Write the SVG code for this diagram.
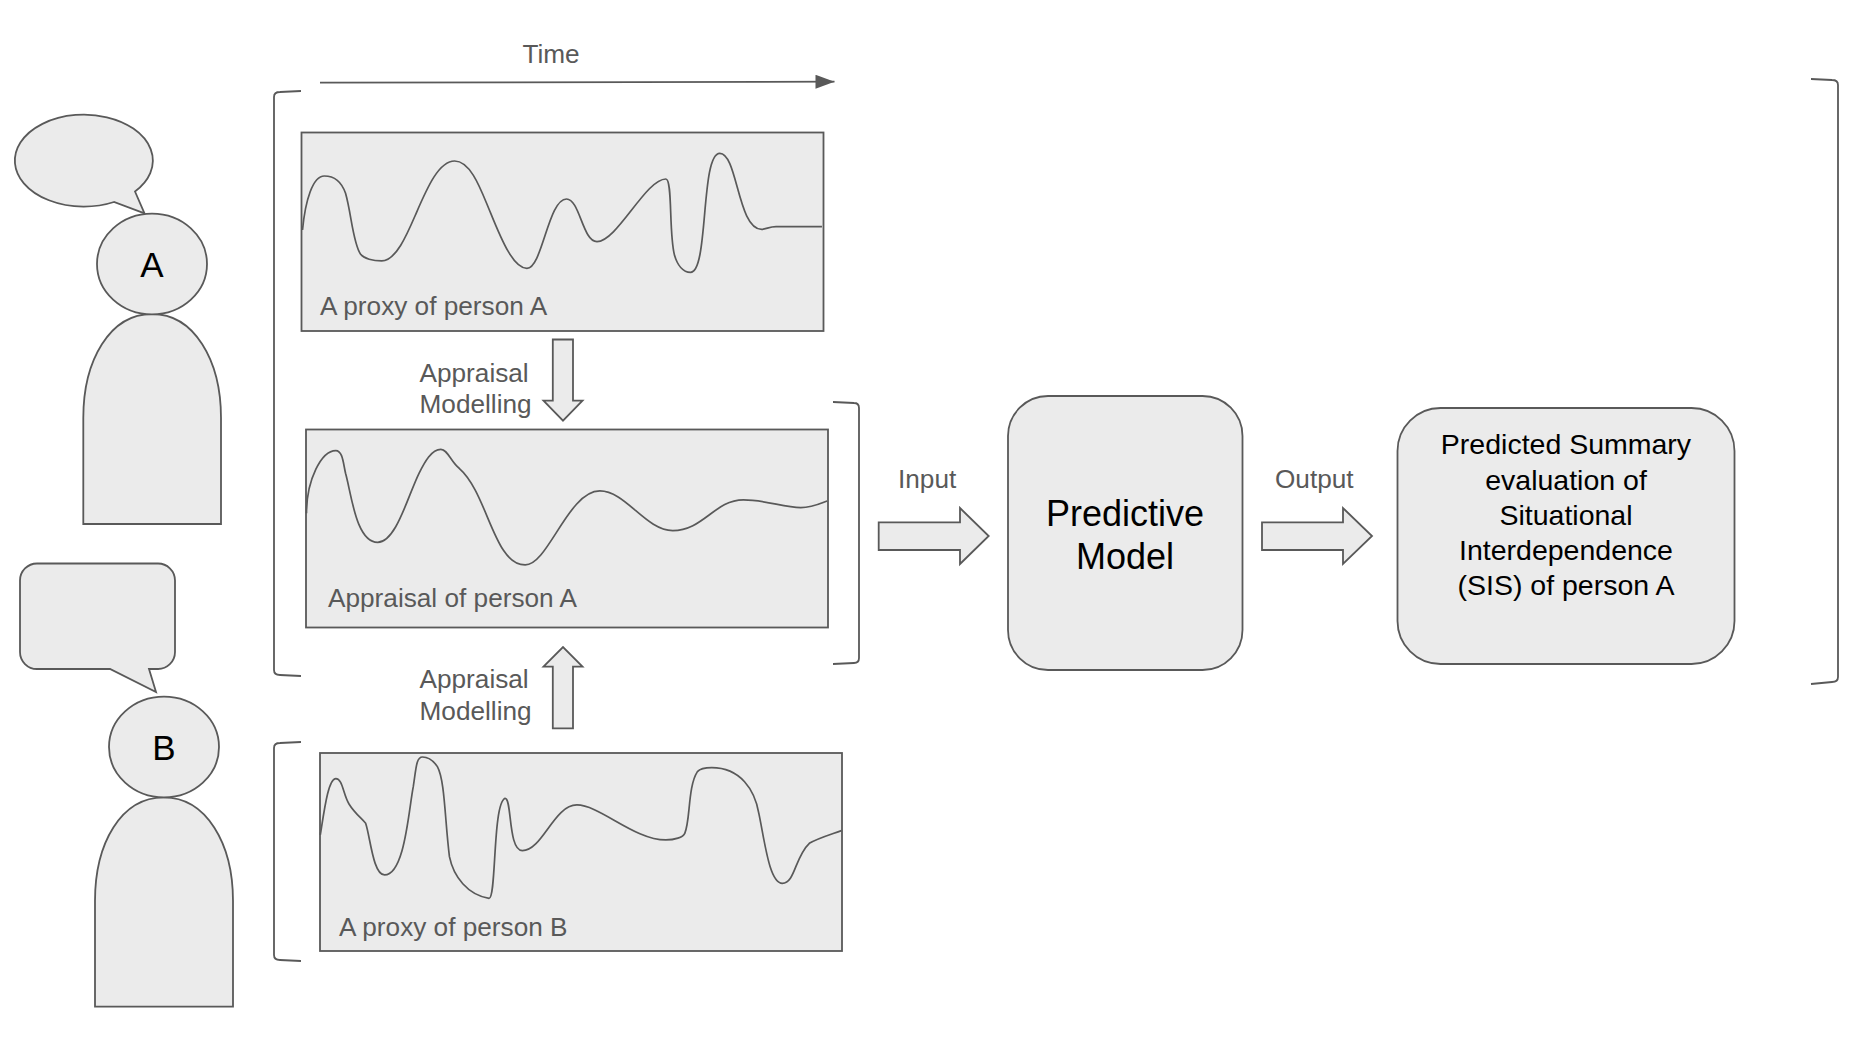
<svg xmlns="http://www.w3.org/2000/svg" width="1865" height="1042" viewBox="0 0 1865 1042">
<defs>
<style>
.s{fill:#ebebeb;stroke:#595959;stroke-width:1.8}
.c{fill:none;stroke:#595959;stroke-width:1.7;vector-effect:non-scaling-stroke}
.b{fill:none;stroke:#595959;stroke-width:1.8}
text{font-family:"Liberation Sans",Arial,sans-serif}
.g{fill:#595959;font-size:26.2px}
.k{fill:#000;font-size:28.5px;text-anchor:middle}
.l{fill:#000;font-size:36px;text-anchor:middle}
.p{fill:#000;font-size:35px;text-anchor:middle}
</style>
<marker id="ah" markerUnits="userSpaceOnUse" markerWidth="20" markerHeight="15" refX="19" refY="7" orient="auto"><path d="M0 0L19 7L0 14Z" fill="#595959"/></marker>
</defs>
<rect width="1865" height="1042" fill="#fff"/>
<g id="brackets">
<path class="b" d="M301 91L280 92Q274 92 274 97V670Q274 675 280 675L301 676"/>
<path class="b" d="M301 742L280 743Q274 743 274 748V955Q274 960 280 960L301 961"/>
<path class="b" d="M833 402L854 403Q859 403 859 408V658Q859 663 854 663L833 664"/>
<path class="b" d="M1811 79L1832 80Q1838 80 1838 85V677Q1838 682 1832 682L1811 684"/>
</g>
<g id="person-a">
<path class="s" d="M135 191.500L144.500 213.300L114 202A69 46 0 1 1 135 191.500Z"/>
<path class="s" d="M83.300 524V418C83.300 360 110 314 152 314C194 314 221 360 221 418V524Z"/>
<ellipse class="s" cx="152" cy="264" rx="55" ry="50.4"/>
<text class="p" x="152" y="277">A</text>
</g>
<g id="person-b">
<path class="s" d="M37 563.500H157.500A17 17 0 0 1 175 580.500V652A17 17 0 0 1 157.500 669H149L156 692L110 669H37A17 17 0 0 1 20 652V580.500A17 17 0 0 1 37 563.500Z"/>
<path class="s" d="M95 1006.700V901C95 843 121 797.300 163.800 797.300C206 797.300 233 843 233 901V1006.700Z"/>
<ellipse class="s" cx="164" cy="747" rx="55" ry="50.4"/>
<text class="p" x="164" y="760">B</text>
</g>
<g id="proxy-a">
<rect class="s" x="301.500" y="132.500" width="522" height="198.500"/>
<path class="c" transform="scale(.574 .3333)" d="M527 690C532 600 545 528 565 528C585 528 596 550 602 580C612 640 615 730 628 762C634 776 650 783 665 783C690 783 710 700 725 640C745 560 765 483 792 483C822 483 840 580 855 640C875 725 895 805 918 805C945 805 955 597 987 597C1010 597 1015 725 1040 725C1075 725 1125 537 1160 537C1172 537 1165 700 1175 765C1180 795 1190 817 1203 817C1235 817 1220 460 1254 460C1285 460 1285 688 1327 688C1335 688 1340 680 1352 680L1432 680"/>
<text class="g" x="320" y="315">A proxy of person A</text>
</g>
<g id="appraisal-a">
<rect class="s" x="306" y="429.500" width="522" height="198"/>
<path class="c" transform="scale(.574 .3333)" d="M534 1540C534 1440 560 1352 585 1352C597 1352 598 1390 602 1420C612 1480 620 1627 658 1627C690 1627 710 1490 730 1420C740 1385 752 1348 768 1348C780 1348 785 1385 800 1405C850 1480 860 1695 915 1695C955 1695 990 1473 1045 1473C1090 1473 1125 1592 1172 1592C1225 1592 1245 1500 1295 1500C1335 1500 1365 1523 1395 1523C1415 1523 1430 1510 1441 1503"/>
<text class="g" x="328" y="607">Appraisal of person A</text>
</g>
<g id="proxy-b">
<rect class="s" x="320" y="753" width="522" height="198"/>
<path class="c" transform="translate(0 520) scale(.574 .3333)" d="M558 945C565 870 572 776 585 776C597 776 598 825 608 852C618 880 630 895 637 910C645 950 650 1065 670 1065C705 1065 712 870 720 800C725 745 725 711 736 711C745 711 755 722 762 740C775 780 775 900 783 1010C790 1070 815 1125 852 1135C865 1135 858 850 880 835C892 835 885 992 910 992C945 992 965 855 1005 855C1045 855 1105 960 1160 960C1175 960 1190 952 1193 940C1203 900 1198 800 1215 755C1220 745 1232 743 1240 743C1290 743 1315 810 1322 880C1332 960 1340 1090 1363 1090C1385 1090 1385 1010 1410 970C1425 955 1445 945 1466 932"/>
<text class="g" x="339" y="936">A proxy of person B</text>
</g>
<g id="predictive-model">
<rect class="s" x="1008" y="396" width="234.500" height="274" rx="40" ry="40"/>
<text class="l" x="1125" y="525.500">Predictive</text>
<text class="l" x="1125" y="568.500">Model</text>
</g>
<g id="sis">
<rect class="s" x="1397.500" y="408" width="337" height="256" rx="43" ry="43"/>
<text class="k" x="1566" y="453.500">Predicted Summary</text>
<text class="k" x="1566" y="489.500">evaluation of</text>
<text class="k" x="1566" y="525">Situational</text>
<text class="k" x="1566" y="560">Interdependence</text>
<text class="k" x="1566" y="595">(SIS) of person A</text>
</g>
<g id="connectors">
<path d="M320 82.700L834.500 81.700" fill="none" stroke="#595959" stroke-width="1.800" marker-end="url(#ah)"/>
<polygon class="s" points="552.800,339.500 573,339.500 573,400.700 582.500,400.700 563,420.700 543.500,400.700 552.800,400.700"/>
<polygon class="s" points="552.800,728.300 573,728.300 573,666.700 582.500,666.700 563,647 543.500,666.700 552.800,666.700"/>
<polygon class="s" points="878.700,522.300 960,522.300 960,508 988.700,536 960,564 960,550 878.700,550"/>
<polygon class="s" points="1262,522.300 1343,522.300 1343,508 1372,536 1343,564 1343,550 1262,550"/>
</g>
<g id="labels">
<text class="g" x="551" y="63" text-anchor="middle">Time</text>
<text class="g" x="419.500" y="382">Appraisal</text>
<text class="g" x="419.500" y="413">Modelling</text>
<text class="g" x="419.500" y="688">Appraisal</text>
<text class="g" x="419.500" y="720">Modelling</text>
<text class="g" x="898" y="488">Input</text>
<text class="g" x="1275" y="488">Output</text>
</g>
</svg>
